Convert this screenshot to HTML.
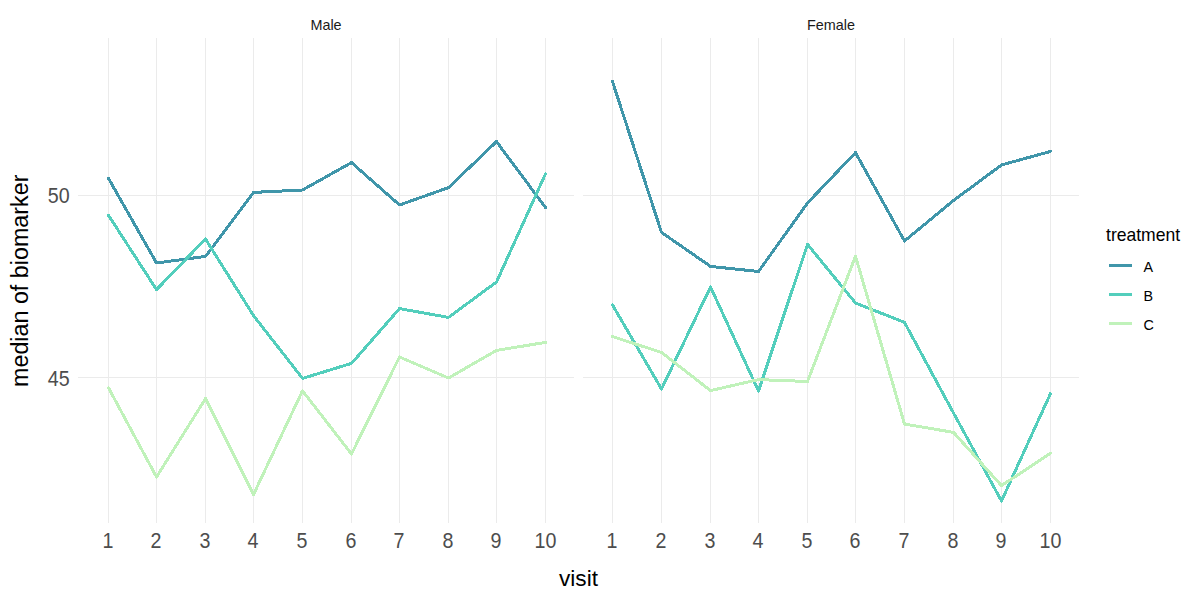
<!DOCTYPE html>
<html><head><meta charset="utf-8"><title>median of biomarker by visit</title><style>
html,body{margin:0;padding:0;background:#fff;}
svg{display:block;font-family:"Liberation Sans",sans-serif;}
</style></head><body>
<svg width="1200" height="600" viewBox="0 0 1200 600">
<rect width="1200" height="600" fill="#fff"/>
<rect x="108" y="38" width="1" height="485" fill="#EBEBEB"/>
<rect x="156" y="38" width="1" height="485" fill="#EBEBEB"/>
<rect x="205" y="38" width="1" height="485" fill="#EBEBEB"/>
<rect x="253" y="38" width="1" height="485" fill="#EBEBEB"/>
<rect x="302" y="38" width="1" height="485" fill="#EBEBEB"/>
<rect x="351" y="38" width="1" height="485" fill="#EBEBEB"/>
<rect x="399" y="38" width="1" height="485" fill="#EBEBEB"/>
<rect x="448" y="38" width="1" height="485" fill="#EBEBEB"/>
<rect x="496" y="38" width="1" height="485" fill="#EBEBEB"/>
<rect x="545" y="38" width="1" height="485" fill="#EBEBEB"/>
<rect x="78" y="195" width="496" height="1" fill="#EBEBEB"/>
<rect x="78" y="377" width="496" height="1" fill="#EBEBEB"/>
<polyline points="108.5,178.4 156.5,263 205.5,256.4 253.5,192.4 302.5,190 351.5,162.6 399.5,205 448.5,187.6 496.5,141.6 545.5,207.5" fill="none" stroke="#4096AA" stroke-width="3" stroke-linejoin="round" stroke-linecap="round" shape-rendering="crispEdges"/>
<polyline points="108.5,215.3 156.5,289.6 205.5,239 253.5,315.6 302.5,378.4 351.5,363.4 399.5,308.6 448.5,317.4 496.5,282 545.5,173.8" fill="none" stroke="#53CEBC" stroke-width="3" stroke-linejoin="round" stroke-linecap="round" shape-rendering="crispEdges"/>
<polyline points="108.5,387.8 156.5,477 205.5,398.6 253.5,494.5 302.5,390.8 351.5,454 399.5,357 448.5,378 496.5,350.4 545.5,342.4" fill="none" stroke="#C0F2BA" stroke-width="3" stroke-linejoin="round" stroke-linecap="round" shape-rendering="crispEdges"/>
<text transform="translate(326.0,29.7)" text-anchor="middle" font-size="14.4" fill="#1A1A1A">Male</text>
<text transform="translate(107.9,548) scale(0.91,1)" text-anchor="middle" font-size="21.6" fill="#4D4D4D">1</text>
<text transform="translate(155.9,548) scale(0.91,1)" text-anchor="middle" font-size="21.6" fill="#4D4D4D">2</text>
<text transform="translate(204.9,548) scale(0.91,1)" text-anchor="middle" font-size="21.6" fill="#4D4D4D">3</text>
<text transform="translate(252.9,548) scale(0.91,1)" text-anchor="middle" font-size="21.6" fill="#4D4D4D">4</text>
<text transform="translate(301.9,548) scale(0.91,1)" text-anchor="middle" font-size="21.6" fill="#4D4D4D">5</text>
<text transform="translate(350.9,548) scale(0.91,1)" text-anchor="middle" font-size="21.6" fill="#4D4D4D">6</text>
<text transform="translate(398.9,548) scale(0.91,1)" text-anchor="middle" font-size="21.6" fill="#4D4D4D">7</text>
<text transform="translate(447.9,548) scale(0.91,1)" text-anchor="middle" font-size="21.6" fill="#4D4D4D">8</text>
<text transform="translate(495.9,548) scale(0.91,1)" text-anchor="middle" font-size="21.6" fill="#4D4D4D">9</text>
<text transform="translate(545.5,548) scale(0.91,1)" text-anchor="middle" font-size="21.6" fill="#4D4D4D">10</text>
<rect x="612" y="38" width="1" height="485" fill="#EBEBEB"/>
<rect x="661" y="38" width="1" height="485" fill="#EBEBEB"/>
<rect x="710" y="38" width="1" height="485" fill="#EBEBEB"/>
<rect x="758" y="38" width="1" height="485" fill="#EBEBEB"/>
<rect x="807" y="38" width="1" height="485" fill="#EBEBEB"/>
<rect x="855" y="38" width="1" height="485" fill="#EBEBEB"/>
<rect x="904" y="38" width="1" height="485" fill="#EBEBEB"/>
<rect x="953" y="38" width="1" height="485" fill="#EBEBEB"/>
<rect x="1001" y="38" width="1" height="485" fill="#EBEBEB"/>
<rect x="1050" y="38" width="1" height="485" fill="#EBEBEB"/>
<rect x="583" y="195" width="496" height="1" fill="#EBEBEB"/>
<rect x="583" y="377" width="496" height="1" fill="#EBEBEB"/>
<polyline points="612.5,81.6 661.5,232.4 710.5,266.4 758.5,271.5 807.5,203 855.5,152.6 904.5,241 953.5,200.5 1001.5,165 1050.5,151.4" fill="none" stroke="#4096AA" stroke-width="3" stroke-linejoin="round" stroke-linecap="round" shape-rendering="crispEdges"/>
<polyline points="612.5,305 661.5,389 710.5,287 758.5,391 807.5,244.4 855.5,303 904.5,322.4 953.5,413 1001.5,501 1050.5,393.6" fill="none" stroke="#53CEBC" stroke-width="3" stroke-linejoin="round" stroke-linecap="round" shape-rendering="crispEdges"/>
<polyline points="612.5,336.6 661.5,352.4 710.5,390.6 758.5,379.6 807.5,381.5 855.5,256.2 904.5,424 953.5,432.4 1001.5,485.6 1050.5,453.3" fill="none" stroke="#C0F2BA" stroke-width="3" stroke-linejoin="round" stroke-linecap="round" shape-rendering="crispEdges"/>
<text transform="translate(831.0,29.7)" text-anchor="middle" font-size="14.4" fill="#1A1A1A">Female</text>
<text transform="translate(611.9,548) scale(0.91,1)" text-anchor="middle" font-size="21.6" fill="#4D4D4D">1</text>
<text transform="translate(660.9,548) scale(0.91,1)" text-anchor="middle" font-size="21.6" fill="#4D4D4D">2</text>
<text transform="translate(709.9,548) scale(0.91,1)" text-anchor="middle" font-size="21.6" fill="#4D4D4D">3</text>
<text transform="translate(757.9,548) scale(0.91,1)" text-anchor="middle" font-size="21.6" fill="#4D4D4D">4</text>
<text transform="translate(806.9,548) scale(0.91,1)" text-anchor="middle" font-size="21.6" fill="#4D4D4D">5</text>
<text transform="translate(854.9,548) scale(0.91,1)" text-anchor="middle" font-size="21.6" fill="#4D4D4D">6</text>
<text transform="translate(903.9,548) scale(0.91,1)" text-anchor="middle" font-size="21.6" fill="#4D4D4D">7</text>
<text transform="translate(952.9,548) scale(0.91,1)" text-anchor="middle" font-size="21.6" fill="#4D4D4D">8</text>
<text transform="translate(1000.9,548) scale(0.91,1)" text-anchor="middle" font-size="21.6" fill="#4D4D4D">9</text>
<text transform="translate(1050.5,548) scale(0.91,1)" text-anchor="middle" font-size="21.6" fill="#4D4D4D">10</text>
<text transform="translate(69.7,203.3) scale(0.91,1)" text-anchor="end" font-size="21.6" fill="#4D4D4D">50</text>
<text transform="translate(69.7,386.1) scale(0.91,1)" text-anchor="end" font-size="21.6" fill="#4D4D4D">45</text>
<text transform="translate(578.5,586)" text-anchor="middle" font-size="22.6" fill="#000">visit</text>
<text transform="translate(28,280.8) rotate(-90)" text-anchor="middle" font-size="23.3" fill="#000">median of biomarker</text>
<text transform="translate(1106,241) scale(0.965,1)" font-size="18.2" fill="#000">treatment</text>
<rect x="1109" y="264.0" width="23" height="3" fill="#4096AA"/>
<text transform="translate(1143.5,271.8) scale(0.93,1)" font-size="15.4" fill="#000">A</text>
<rect x="1109" y="293.0" width="23" height="3" fill="#53CEBC"/>
<text transform="translate(1143.5,301) scale(0.93,1)" font-size="15.4" fill="#000">B</text>
<rect x="1109" y="322.0" width="23" height="3" fill="#C0F2BA"/>
<text transform="translate(1143.5,330) scale(0.93,1)" font-size="15.4" fill="#000">C</text>
</svg>
</body></html>
